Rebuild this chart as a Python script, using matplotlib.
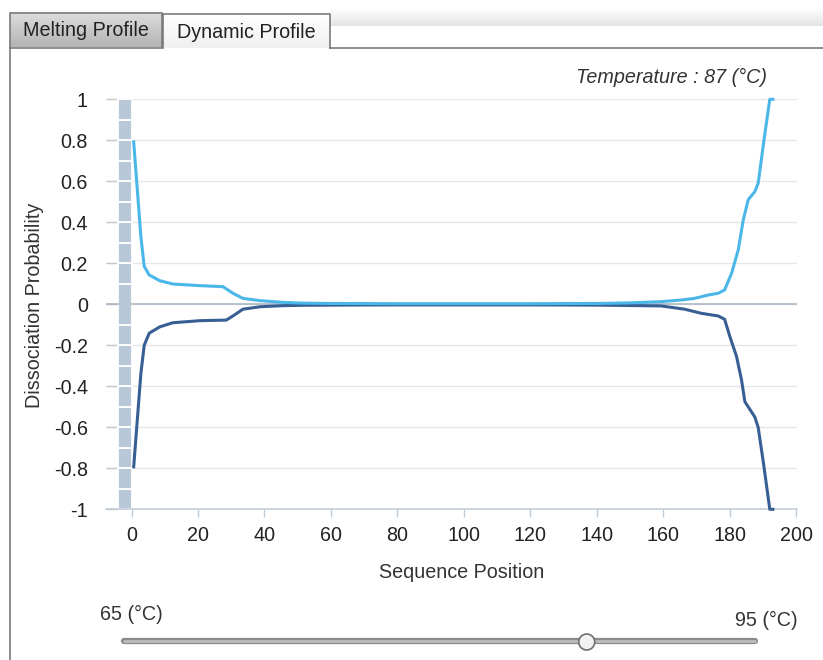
import matplotlib
matplotlib.use("Agg")
import matplotlib.pyplot as plt
import numpy as np
from matplotlib.patches import Rectangle, Circle

plt.rcParams['font.family'] = ['Liberation Sans', 'DejaVu Sans']

# ---- data ----
upper_x = [0.6, 2.8, 3.8, 5.3, 8.5, 12.4, 20.5, 27.5, 30.5, 33.5, 38.6, 45, 50.7,
           60, 80, 100, 120, 140, 150, 159.4, 165.5, 169.5, 173.5, 176.6, 178.5,
           180.6, 182.6, 184.1, 185.6, 187.6, 188.6, 190.6, 192.1, 193.5]
upper_y = [0.80, 0.33, 0.185, 0.143, 0.115, 0.099, 0.091, 0.086, 0.054, 0.029, 0.018, 0.010, 0.006,
           0.004, 0.003, 0.003, 0.003, 0.004, 0.007, 0.013, 0.021, 0.029, 0.045, 0.054, 0.070,
           0.151, 0.265, 0.41, 0.51, 0.55, 0.59, 0.83, 1.0, 1.0]
lower_x = [0.6, 2.8, 3.8, 5.3, 8.5, 12.4, 20.5, 28.5, 30.5, 33.5, 38.6, 45, 50.7,
           60, 80, 100, 120, 140, 150, 159.4, 166.5, 171.5, 176.6, 178.5, 180.1,
           182.1, 183.6, 184.6, 187.6, 188.6, 190.2, 192.1, 193.5]
lower_y = [-0.80, -0.337, -0.20, -0.141, -0.11, -0.09, -0.08, -0.077, -0.057, -0.024, -0.012, -0.007, -0.005,
           -0.004, -0.003, -0.003, -0.003, -0.004, -0.006, -0.008, -0.024, -0.044, -0.057, -0.073, -0.158,
           -0.255, -0.37, -0.475, -0.55, -0.60, -0.775, -1.0, -1.0]
x_ticks = [0, 20, 40, 60, 80, 100, 120, 140, 160, 180, 200]
y_ticks = [-1, -0.8, -0.6, -0.4, -0.2, 0, 0.2, 0.4, 0.6, 0.8, 1]
y_tick_labels = ['-1', '-0.8', '-0.6', '-0.4', '-0.2', '0', '0.2', '0.4', '0.6', '0.8', '1']
bar_bottoms = [-1.0, -0.9, -0.8, -0.7, -0.6, -0.5, -0.4, -0.3, -0.2, -0.1,
               0.0, 0.1, 0.2, 0.3, 0.4, 0.5, 0.6, 0.7, 0.8, 0.9]
temperature = 87
t_min, t_max = 65, 95

FS = 14.2
W, H = 823, 660
fig = plt.figure(figsize=(W / 100, H / 100), dpi=100)

# ---- background UI axes (pixel coordinates) ----
bg = fig.add_axes([0, 0, 1, 1])
bg.set_xlim(0, W)
bg.set_ylim(H, 0)
bg.axis('off')

# top shadow band
grad = np.linspace(0, 1, 50).reshape(-1, 1)
bg.imshow(grad, extent=(330, W, 26, 8), cmap=matplotlib.colors.LinearSegmentedColormap.from_list(
    'sh', ['#ffffff', '#e4e4e4']), aspect='auto', zorder=0)

# Melting Profile tab (grey gradient)
g2 = np.linspace(0, 1, 50).reshape(-1, 1)
bg.imshow(g2, extent=(10, 162, 47, 13), cmap=matplotlib.colors.LinearSegmentedColormap.from_list(
    'tab', ['#dcdcdc', '#b4b4b4']), aspect='auto', zorder=1)
bg.add_patch(Rectangle((10, 13), 152, 35, fill=False, ec='#7a7a7a', lw=1.2, zorder=2))
bg.text(86, 31, 'Melting Profile', ha='center', va='center', fontsize=FS, color='#222222', zorder=3)

# Dynamic Profile tab (active)
bg.imshow(g2, extent=(163, 330, 48, 14), cmap=matplotlib.colors.LinearSegmentedColormap.from_list(
    'tab2', ['#ffffff', '#f0f0f0']), aspect='auto', zorder=1)
bg.plot([163, 163, 330, 330], [48, 14, 14, 48], color='#7a7a7a', lw=1.2, zorder=2)
bg.text(246, 33, 'Dynamic Profile', ha='center', va='center', fontsize=FS, color='#222222', zorder=3)

# panel border
bg.plot([10, 10], [48, H], color='#7a7a7a', lw=1.2)
bg.plot([330, W], [48, 48], color='#7a7a7a', lw=1.2)

# titles
bg.text(767, 77, 'Temperature : %d (°C)' % temperature, ha='right', va='center',
        fontsize=FS, style='italic', color='#333333')
bg.text(462, 572, 'Sequence Position', ha='center', va='center', fontsize=FS, color='#333333')
bg.text(35, 305, 'Dissociation Probability', ha='center', va='center', rotation=90,
        fontsize=FS, color='#333333')

# slider
sx0, sx1, sy = 124, 755, 641
bg.plot([sx0, sx1], [sy, sy], color='#8a8a8a', lw=4.5, solid_capstyle='round', zorder=2)
bg.plot([sx0, sx1], [sy - 0.5, sy - 0.5], color='#bdbdbd', lw=2, solid_capstyle='round', zorder=3)
hx = sx0 + (temperature - t_min) / (t_max - t_min) * (sx1 - sx0)
bg.add_patch(Circle((hx, sy + 1), 8, fc='#f2f2f2', ec='#6f6f6f', lw=1.2, zorder=4))
bg.text(131, 614, '%d (°C)' % t_min, ha='center', va='center', fontsize=FS, color='#333333')
bg.text(766, 620, '%d (°C)' % t_max, ha='center', va='center', fontsize=FS, color='#333333')

# ---- main chart ----
left, right, top, bottom = 106, 796.7, 99.3, 509.3
ax = fig.add_axes([left / W, 1 - bottom / H, (right - left) / W, (bottom - top) / H])
ax.set_facecolor('none')
ax.set_xlim(-7.7, 200.2)
ax.set_ylim(-1, 1)

ax.set_yticks(y_ticks)
ax.set_yticklabels(y_tick_labels)
ax.set_xticks(x_ticks)
ax.grid(axis='y', color='#e6e6e6', lw=1, zorder=0)
ax.set_axisbelow(True)

ax.bar([-2] * len(bar_bottoms), [0.1] * len(bar_bottoms), width=4, bottom=bar_bottoms,
       color='#b8c8d9', edgecolor='white', linewidth=1.3, zorder=1)
ax.axhline(0, color='#a6b4c3', lw=1.1, zorder=1.5)

ax.plot(lower_x, lower_y, color='#385f94', lw=2.2, zorder=3, clip_on=False,
        solid_joinstyle='round', solid_capstyle='butt')
ax.plot(upper_x, upper_y, color='#4bb7e8', lw=2.2, zorder=4, clip_on=False,
        solid_joinstyle='round', solid_capstyle='butt')

for s in ['top', 'right', 'left']:
    ax.spines[s].set_visible(False)
ax.spines['bottom'].set_color('#c0ccd8')
ax.spines['bottom'].set_linewidth(1.1)
ax.tick_params(axis='x', direction='out', length=6, width=1, color='#c0ccd8',
               labelsize=FS, labelcolor='#222222', pad=6)
ax.tick_params(axis='y', direction='in', length=8, width=1, color='#c8c8c8',
               labelsize=FS, labelcolor='#222222', pad=13)

fig.savefig('out.png', dpi=100)
